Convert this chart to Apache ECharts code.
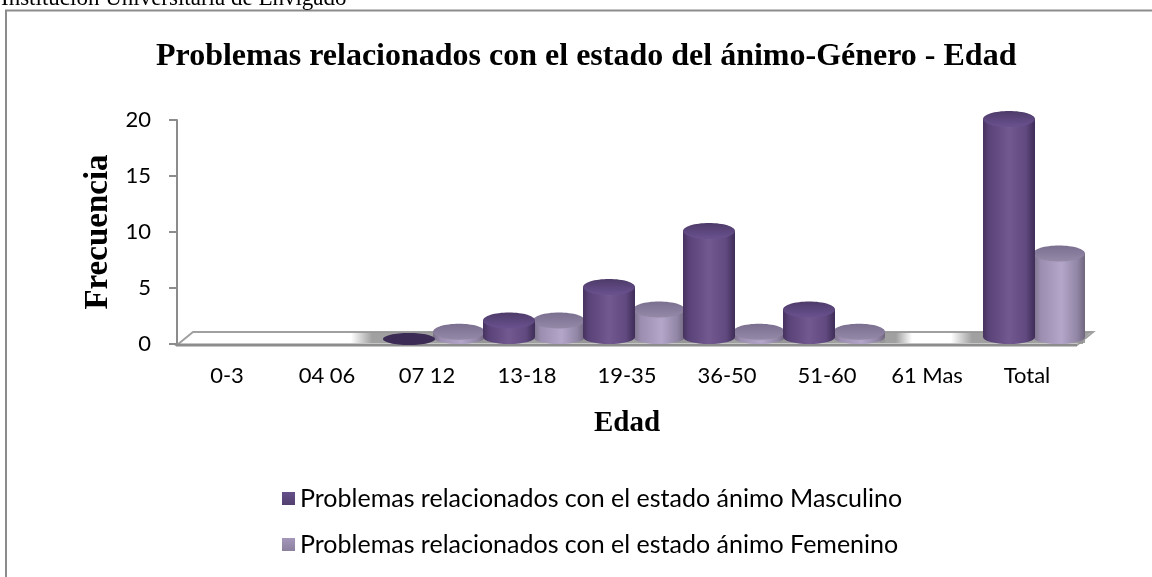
<!DOCTYPE html>
<html><head><meta charset="utf-8">
<style>html,body{margin:0;padding:0;background:#fff}#c{width:1152px;height:577px}</style>
<script src="https://cdn.jsdelivr.net/npm/echarts@6/dist/echarts.min.js"></script>
</head><body><div id="c"></div>
<script>
const categories = ['0-3','04 06','07 12','13-18','19-35','36-50','51-60','61 Mas','Total'];
const masculino = [null,null,0,2,5,10,3,null,20];
const femenino  = [null,null,1,2,3,1,1,null,8];
const yTicks = [0,5,10,15,20];
const nameM = 'Problemas relacionados con el estado ánimo Masculino';
const nameF = 'Problemas relacionados con el estado ánimo Femenino';
const chartTitle = 'Problemas relacionados con el estado del ánimo-Género - Edad';
const header = 'Institución Universitaria de Envigado';

const SANS = 'Lato', SERIF = '"Liberation Serif"';
const hGrad = (stops) => ({type:'linear',x:0,y:0,x2:1,y2:0,colorStops:stops});
const vGrad = (a,b) => ({type:'linear',x:0,y:0,x2:0,y2:1,colorStops:[{offset:0,color:a},{offset:1,color:b}]});
const paletteM = {
  body: hGrad([{offset:0,color:'#46325f'},{offset:.12,color:'#5a4379'},{offset:.5,color:'#72598f'},{offset:.82,color:'#614a80'},{offset:1,color:'#3f2d58'}]),
  top: vGrad('#4e3b69','#6a5290'),
  flat:'#3c2b55'
};
const paletteF = {
  body: hGrad([{offset:0,color:'#7a7088'},{offset:.15,color:'#9b8eb0'},{offset:.55,color:'#b3a6c9'},{offset:.85,color:'#9286a6'},{offset:1,color:'#6f667c'}]),
  top: vGrad('#7b6f90','#9589a8'),
  flat:'#8a7ea0'
};
function cylinder(palette, shift){
  return function(params, api){
    const v = api.value(1);
    if (v === null || v === undefined || isNaN(v)) return;
    const band = api.size([1,0])[0];
    const rx = band*0.26, ry = 8;
    const base = api.coord([api.value(0),0]);
    const top = api.coord([api.value(0),v]);
    const cx = base[0] + band*shift;
    const children = [];
    if (v === 0) {
      children.push({type:'ellipse',shape:{cx:cx,cy:base[1]-5,rx:rx,ry:6},style:{fill:palette.flat}});
      return {type:'group',children};
    }
    const yTop = top[1]-1, yBase = base[1]-7, ryB = 7;
    children.push({type:'path',shape:{pathData:
      `M${cx-rx} ${yTop}L${cx-rx} ${yBase}A${rx} ${ryB} 0 0 0 ${cx+rx} ${yBase}L${cx+rx} ${yTop}Z`,
      x:cx-rx,y:yTop,width:rx*2,height:yBase+ryB-yTop,layout:'cover'},
      style:{fill:palette.body}});
    children.push({type:'ellipse',shape:{cx:cx,cy:yTop,rx:rx,ry:ry},style:{fill:palette.top}});
    return {type:'group',children};
  };
}
const floorDx = 16, floorDy = 13;
function floorItem(params, api){
  const n = categories.length;
  const band = api.size([1,0])[0];
  const o = api.coord([0,0]);
  const x0 = o[0]-band/2, x1 = x0 + band*n, y = o[1]+1;
  return {type:'group',children:[
    {type:'polygon',shape:{points:[[x0,y],[x0+floorDx,y-floorDy],[x1+floorDx,y-floorDy],[x1,y]]},
      style:{fill:'#fff',stroke:'#a0a0a0',lineWidth:2}},
    {type:'line',shape:{x1:x0-1,y1:y,x2:x1,y2:y},style:{stroke:'#8c8c8c',lineWidth:3}}
  ]};
}
const fade = (dir) => ({type:'linear',x:0,y:0,x2:1,y2:0,colorStops:dir>0
  ?[{offset:0,color:'rgba(150,150,150,0)'},{offset:.5,color:'rgba(150,150,150,.9)'},{offset:1,color:'rgba(150,150,150,.9)'}]
  :[{offset:0,color:'rgba(150,150,150,.9)'},{offset:.5,color:'rgba(150,150,150,.9)'},{offset:1,color:'rgba(150,150,150,0)'}]});
function shadowItem(params, api){
  const idx = api.value(0);
  const band = api.size([1,0])[0];
  const base = api.coord([idx,0]);
  const left = base[0] - band*0.44, right = base[0] + band*0.58;
  const y = base[1]-12, h = 11, reach = band*0.32;
  const children = [
    {type:'rect',shape:{x:left-reach,y:y,width:reach+band*0.1,height:h},style:{fill:fade(1)}},
    {type:'rect',shape:{x:left+band*0.1,y:y,width:right-left-band*0.1,height:h},style:{fill:'rgba(150,150,150,.9)'}}
  ];
  if (idx === categories.length-1) {
    const x1 = base[0]+band/2, yb = base[1];
    children.push({type:'polygon',shape:{points:[[right-2,y],[x1+floorDx-2,y],[x1+1,yb],[right-2,yb]]},style:{fill:'rgba(150,150,150,.9)'}});
  } else {
    children.push({type:'rect',shape:{x:right-band*0.05,y:y,width:reach,height:h},style:{fill:fade(-1)}});
  }
  return {type:'group',children};
}
const chart = echarts.init(document.getElementById('c'),null,{renderer:'canvas'});
chart.setOption({
  animation:false,
  backgroundColor:'#fff',
  graphic:[
    {type:'polyline',silent:true,z:-1,shape:{points:[[6,600],[6,10.5],[1160,10.5]]},style:{fill:'none',stroke:'#8c8c8c',lineWidth:2}}
  ],
  title:[
    {text:chartTitle,left:156,top:41,textStyle:{fontFamily:SERIF,fontWeight:'bold',fontSize:32,color:'#000'},padding:0},
    {text:header,left:1,top:-13,textStyle:{fontFamily:SERIF,fontWeight:'normal',fontSize:23,color:'#000'},padding:0}
  ],
  legend:{
    orient:'vertical',left:282,top:486,itemWidth:13,itemHeight:13,itemGap:21,padding:0,
    data:[{name:nameM,icon:'rect'},{name:nameF,icon:'rect'}],
    textStyle:{fontFamily:SANS,fontSize:25,color:'#000'}
  },
  grid:{left:177,top:120,width:900,height:224,containLabel:false},
  xAxis:{type:'category',data:categories,
    name:'Edad',nameLocation:'middle',nameGap:65,
    nameTextStyle:{fontFamily:SERIF,fontWeight:'bold',fontSize:29,color:'#000'},
    axisLine:{show:false},axisTick:{show:false},
    axisLabel:{fontFamily:SANS,fontSize:22,color:'#000',margin:21,interval:0},
    splitLine:{show:false}},
  yAxis:{type:'value',min:0,max:20,interval:5,
    name:'Frecuencia',nameLocation:'middle',nameGap:62,nameRotate:90,
    nameTextStyle:{fontFamily:SERIF,fontWeight:'bold',fontSize:33,color:'#000'},
    axisLine:{show:true,lineStyle:{color:'#8c8c8c',width:2}},
    axisTick:{show:true,length:8,lineStyle:{color:'#8c8c8c',width:2}},
    axisLabel:{fontFamily:SANS,fontSize:22,color:'#000',margin:26,padding:[3,0,0,0]},
    splitLine:{show:false}},
  series:[
    {type:'custom',name:'floor',silent:true,clip:false,z:1,coordinateSystem:'cartesian2d',
      data:[[0,0]],renderItem:floorItem},
    {type:'custom',name:'shadow',silent:true,clip:false,z:2,coordinateSystem:'cartesian2d',
      data:masculino.map((v,i)=>[i,v]).filter(d=>d[1]!==null),renderItem:shadowItem},
    {type:'custom',name:nameF,clip:false,z:3,coordinateSystem:'cartesian2d',
      itemStyle:{color:vGrad('#a497bb','#8c809f')},encode:{x:0,y:1},
      data:femenino.map((v,i)=>[i,v]),renderItem:cylinder(paletteF,0.32)},
    {type:'custom',name:nameM,clip:false,z:4,coordinateSystem:'cartesian2d',
      itemStyle:{color:vGrad('#66508a','#54406f')},encode:{x:0,y:1},
      data:masculino.map((v,i)=>[i,v]),renderItem:cylinder(paletteM,-0.18)}
  ]
});
</script></body></html>
